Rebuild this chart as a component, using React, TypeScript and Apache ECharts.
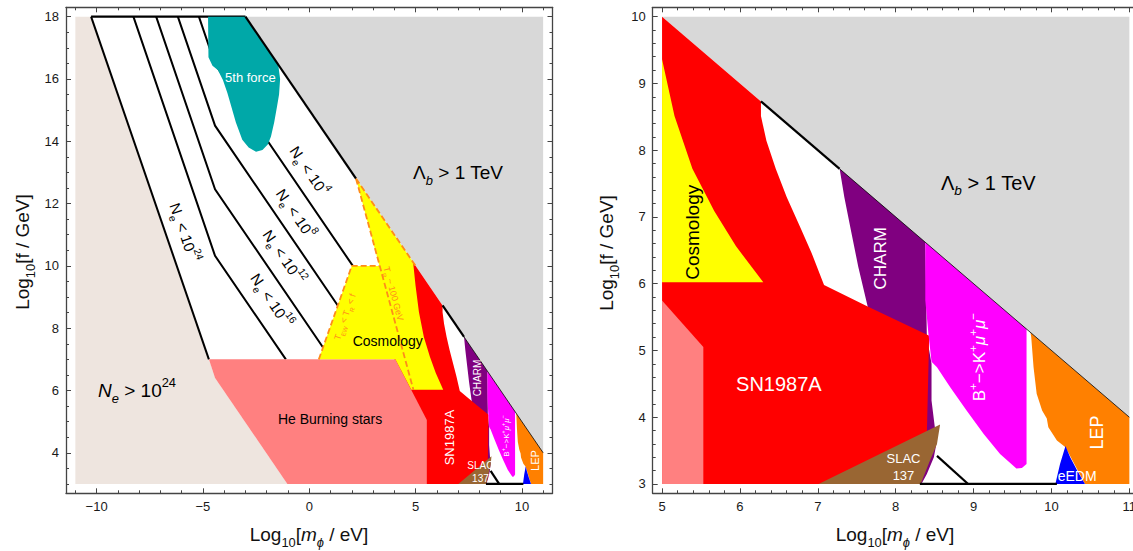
import React, { useEffect, useRef } from "react";
import * as echarts from "echarts";

type P = [number, number];

// ---------------- axis ticks ----------------
const LX_MAJOR = [-10, -5, 0, 5, 10];
const LX_MINOR = [-11, -9, -8, -7, -6, -4, -3, -2, -1, 1, 2, 3, 4, 6, 7, 8, 9, 11];
const LY_MAJOR = [4, 6, 8, 10, 12, 14, 16, 18];
const LY_MINOR = [3, 3.5, 4.5, 5, 5.5, 6.5, 7, 7.5, 8.5, 9, 9.5, 10.5, 11, 11.5, 12.5, 13, 13.5, 14.5, 15, 15.5, 16.5, 17, 17.5];
const RX_MAJOR = [5, 6, 7, 8, 9, 10, 11];
const RX_MINOR = [5.2, 5.4, 5.6, 5.8, 6.2, 6.4, 6.6, 6.8, 7.2, 7.4, 7.6, 7.8, 8.2, 8.4, 8.6, 8.8, 9.2, 9.4, 9.6, 9.8, 10.2, 10.4, 10.6, 10.8];
const RY_MAJOR = [3, 4, 5, 6, 7, 8, 9, 10];
const RY_MINOR = [3.2, 3.4, 3.6, 3.8, 4.2, 4.4, 4.6, 4.8, 5.2, 5.4, 5.6, 5.8, 6.2, 6.4, 6.6, 6.8, 7.2, 7.4, 7.6, 7.8, 8.2, 8.4, 8.6, 8.8, 9.2, 9.4, 9.6, 9.8];

// ---------------- regions (x = log10 m/eV, y = log10 f/GeV) ----------------
const GRAY: P[] = [[-3, 18], [11, 18], [11, 4]];
const BEIGE: P[] = [[-11, 18], [-10.26, 18], [-4.72, 7.0], [-4.43, 6.4], [-1.03, 3], [-11, 3]];
const TEAL: P[] = [[-4.76, 18], [-3.0, 18], [-1.46, 16.46], [-1.37, 16.0], [-1.42, 15.5], [-1.52, 15.1], [-1.65, 14.6], [-1.8, 14.15], [-1.95, 13.9], [-2.2, 13.72], [-2.5, 13.66], [-2.85, 13.8], [-3.15, 14.05], [-3.45, 14.6], [-3.7, 15.2], [-3.85, 15.55], [-4.06, 15.97], [-4.3, 16.29], [-4.55, 16.42], [-4.74, 16.7]];
const SALMON: P[] = [[-4.72, 7], [4.05, 7], [5.53, 5.05], [5.53, 3], [-1.03, 3], [-4.43, 6.4]];
const YELLOW: P[] = [[0.45, 7], [2.0, 10], [3.3, 10], [2.2, 12.8], [4.885, 10.115], [5.0, 9.36], [5.16, 8.51], [5.39, 7.72], [5.67, 7.09], [5.95, 6.56], [6.3, 6.02], [4.8, 6.02], [4.05, 7]];
const RED: P[] = [[4.885, 10.115], [6.27, 8.73], [6.27, 8.51], [6.34, 8.14], [6.46, 7.72], [6.6, 7.3], [6.78, 6.83], [6.92, 6.46], [7.08, 5.98], [7.64, 5.66], [8.43, 5.22], [8.4, 3.75], [8.2, 3.0], [4.0, 3.0], [4.0, 7.0]];
const CHARM: P[] = [[7.28, 7.72], [8.38, 6.62], [8.4, 5.2], [8.46, 4.8], [8.46, 4.25], [8.5, 3.87], [8.53, 3.65], [8.49, 3.4], [8.4, 3.15], [8.33, 3.0], [8.0, 3.0], [7.64, 5.66], [7.52, 6.25], [7.43, 6.77], [7.34, 7.3]];
const BKMM: P[] = [[8.38, 6.62], [9.68, 5.32], [9.68, 3.3], [9.62, 3.24], [9.55, 3.23], [9.34, 3.45], [9.13, 3.75], [8.91, 4.1], [8.7, 4.45], [8.53, 4.75], [8.46, 4.83], [8.42, 5.25], [8.38, 5.75]];
const LEP: P[] = [[9.73, 5.27], [11, 4], [11, 3], [10.43, 3.0], [10.18, 3.55], [10.07, 3.65], [9.96, 3.85], [9.94, 3.98], [9.88, 4.1], [9.81, 4.35], [9.77, 4.75], [9.74, 5.2]];
const EEDM: P[] = [[10.05, 3.0], [10.11, 3.3], [10.18, 3.57], [10.24, 3.4], [10.33, 3.2], [10.43, 3.0]];
const SLAC: P[] = [[7.01, 3.0], [8.57, 3.89], [8.53, 3.6], [8.44, 3.35], [8.32, 3.0]];

// ---------------- lines ----------------
const NE_LINES: P[][] = [
  [[-10.26, 18], [-4.72, 7.0]],
  [[-8.27, 18], [-4.43, 10.32], [-1.1, 7.0]],
  [[-7.2, 18], [-4.43, 12.46], [0.65, 7.38]],
  [[-6.18, 18], [-4.43, 14.5], [1.34, 8.73]],
  [[-5.19, 18], [-4.43, 16.48], [2.05, 10.0]],
];
const TOP_LINE: P[] = [[-10.26, 18], [-3, 18]];
const EDGE_THICK_L: P[][] = [[[-3, 18], [2.2, 12.8]], [[6.27, 8.73], [7.28, 7.72]]];
const EDGE_THICK_R: P[][] = [[[6.27, 8.73], [7.28, 7.72]]];
const EDGE_THIN: P[] = [[7.28, 7.72], [11, 4]];
const BOTTOM_LINES: P[][] = [[[8.53, 3.42], [8.93, 3.0]], [[8.31, 3.0], [10.07, 3.0]]];
const DASHED: P[][] = [
  [[2.2, 12.8], [4.9, 6.02]],
  [[0.45, 7], [2.0, 10], [3.3, 10]],
  [[2.2, 12.8], [5.0, 10.0]],
];

// ---------------- labels ----------------
type Lab = { x: number; y: number; t: string; s: number; c: string; rot?: number; slope?: number };
const WHITE = "#ffffff";
const LABELS_L: Lab[] = [
  { x: -2.77, y: 16.05, t: "5th force", s: 13, c: WHITE },
  { x: 7.0, y: 13.0, t: "{n|Λ}{isub|b}{n| > 1 TeV}", s: 19, c: "#000" },
  { x: -8.1, y: 6.0, t: "{i|N}{isub|e}{n| > 10}{sup|24}", s: 19, c: "#000" },
  { x: 0.98, y: 5.1, t: "He Burning stars", s: 14, c: "#000" },
  { x: 3.69, y: 7.59, t: "Cosmology", s: 14, c: "#000" },
  { x: 6.58, y: 4.49, t: "SN1987A", s: 13, c: WHITE, rot: 90 },
  { x: 7.9, y: 6.4, t: "CHARM", s: 10, c: WHITE, rot: 90 },
  { x: 9.28, y: 4.54, t: "{n|B}{sup|+}{n|−>K}{sup|+}{i|μ}{sup|+}{i|μ}{sup|−}", s: 8, c: WHITE, rot: 90 },
  { x: 10.64, y: 3.75, t: "LEP", s: 11, c: WHITE, rot: 90 },
  { x: 8.05, y: 3.58, t: "SLAC", s: 10, c: WHITE },
  { x: 8.05, y: 3.17, t: "137", s: 10, c: WHITE },
  { x: 0.0, y: 13.05, t: "{n|N}{sub|e}{n| < 10}{sup|4}", s: 15, c: "#000", slope: -1 },
  { x: -0.64, y: 11.68, t: "{n|N}{sub|e}{n| < 10}{sup|8}", s: 15, c: "#000", slope: -1 },
  { x: -1.19, y: 10.29, t: "{n|N}{sub|e}{n| < 10}{sup|12}", s: 15, c: "#000", slope: -1 },
  { x: -1.77, y: 8.89, t: "{n|N}{sub|e}{n| < 10}{sup|16}", s: 15, c: "#000", slope: -1 },
  { x: -5.87, y: 11.07, t: "{n|N}{sub|e}{n| < 10}{sup|24}", s: 15, c: "#000", slope: -2 },
  { x: 3.96, y: 9.11, t: "{n|T}{sub|R}{n| ~ 100 GeV}", s: 9, c: "#ff8c1a", slope: -2.545 },
  { x: 1.68, y: 8.36, t: "{n|T}{sub|EW}{n| < T}{sub|R}{n| < f}", s: 9, c: "#ff8c1a", slope: 1.94 },
];
const LABELS_R: Lab[] = [
  { x: 9.19, y: 7.51, t: "{n|Λ}{isub|b}{n| > 1 TeV}", s: 20, c: "#000" },
  { x: 5.39, y: 6.77, t: "Cosmology", s: 19, c: "#000", rot: 90 },
  { x: 6.5, y: 4.5, t: "SN1987A", s: 20, c: WHITE },
  { x: 7.8, y: 6.38, t: "CHARM", s: 17, c: WHITE, rot: 90 },
  { x: 9.08, y: 4.9, t: "{n|B}{sup|+}{n|−>K}{sup|+}{i|μ}{sup|+}{i|μ}{sup|−}", s: 17, c: WHITE, rot: 90 },
  { x: 10.58, y: 3.77, t: "LEP", s: 18, c: WHITE, rot: 90 },
  { x: 10.33, y: 3.12, t: "eEDM", s: 14, c: WHITE },
  { x: 8.1, y: 3.38, t: "SLAC", s: 13, c: WHITE },
  { x: 8.1, y: 3.12, t: "137", s: 13, c: WHITE },
];

const FONT = "'Liberation Sans', Arial, sans-serif";
const FRAME = "#444";

function rich(size: number, color: string) {
  const L = Math.round(size * 1.5);
  const small = Math.round(size * 0.68 * 10) / 10;
  return {
    n: { fontSize: size, fontFamily: FONT, fill: color, lineHeight: L, verticalAlign: "middle" },
    i: { fontSize: size, fontFamily: FONT, fill: color, lineHeight: L, fontStyle: "italic", verticalAlign: "middle" },
    sup: { fontSize: small, fontFamily: FONT, fill: color, verticalAlign: "top" },
    sub: { fontSize: small, fontFamily: FONT, fill: color, verticalAlign: "bottom" },
    isub: { fontSize: small, fontFamily: FONT, fill: color, fontStyle: "italic", verticalAlign: "bottom" },
  };
}

type Rect = { x0: number; x1: number; y0: number; y1: number };
function clipAxis(poly: P[], k: 0 | 1, v: number, keepGreater: boolean): P[] {
  const res: P[] = [];
  const ins = (p: P) => (keepGreater ? p[k] >= v : p[k] <= v);
  for (let i = 0; i < poly.length; i++) {
    const a = poly[i];
    const b = poly[(i + 1) % poly.length];
    const ia = ins(a);
    const ib = ins(b);
    if (ia) res.push(a);
    if (ia !== ib) {
      const t = (v - a[k]) / (b[k] - a[k]);
      res.push([a[0] + t * (b[0] - a[0]), a[1] + t * (b[1] - a[1])]);
    }
  }
  return res;
}
function clipPoly(poly: P[], r: Rect): P[] {
  let o = clipAxis(poly, 0, r.x0, true);
  o = clipAxis(o, 0, r.x1, false);
  o = clipAxis(o, 1, r.y0, true);
  o = clipAxis(o, 1, r.y1, false);
  return o;
}

function polySeries(ax: number, pts: P[], fill: string, rect: Rect, z: number) {
  const clipped = clipPoly(pts, rect);
  return {
    type: "custom",
    xAxisIndex: ax,
    yAxisIndex: ax,
    data: [[0, 0]],
    silent: true,
    clip: false,
    z,
    renderItem: (_p: any, api: any) =>
      clipped.length < 3
        ? null
        : { type: "polygon", shape: { points: clipped.map((q) => api.coord(q)) }, style: { fill, stroke: "none" } },
  };
}

function lineSeries(ax: number, lines: P[][], color: string, width: number, z: number, dash?: number[]) {
  return {
    type: "custom",
    xAxisIndex: ax,
    yAxisIndex: ax,
    data: [[0, 0]],
    silent: true,
    clip: false,
    z,
    renderItem: (_p: any, api: any) => ({
      type: "group",
      children: lines.map((l) => ({
        type: "polyline",
        shape: { points: l.map((q) => api.coord(q)) },
        style: { stroke: color, lineWidth: width, fill: "none", lineDash: dash || null, lineCap: "butt", lineJoin: "miter" },
      })),
    }),
  };
}

function labelSeries(ax: number, labels: Lab[], z: number) {
  return {
    type: "custom",
    xAxisIndex: ax,
    yAxisIndex: ax,
    data: [[0, 0]],
    silent: true,
    clip: false,
    z,
    renderItem: (_p: any, api: any) => ({
      type: "group",
      children: labels.map((l) => {
        const p = api.coord([l.x, l.y]);
        let rot = l.rot ? (l.rot * Math.PI) / 180 : 0;
        if (l.slope !== undefined) {
          const b = api.coord([l.x + 1, l.y + l.slope]);
          rot = -Math.atan2(b[1] - p[1], b[0] - p[0]);
          if (l.slope > 0) rot = -Math.atan2(b[1] - p[1], b[0] - p[0]);
        }
        return {
          type: "text",
          x: p[0],
          y: p[1],
          rotation: rot,
          style: {
            text: l.t,
            rich: rich(l.s, l.c),
            fill: l.c,
            fontSize: l.s,
            fontFamily: FONT,
            align: "center",
            verticalAlign: "middle",
          },
        };
      }),
    }),
  };
}

function frameAxes(dim: "x" | "y", grid: number, min: number, max: number, major: number[], minor: number[]) {
  const posMain = dim === "x" ? "bottom" : "left";
  const posOpp = dim === "x" ? "top" : "right";
  const base = { type: "value", gridIndex: grid, min, max, splitLine: { show: false }, scale: false };
  const line = { show: true, onZero: false, lineStyle: { color: FRAME, width: 1.3 } };
  const tickStyle = { color: FRAME, width: 1 };
  return [
    {
      ...base,
      position: posMain,
      axisLine: line,
      axisTick: { show: true, inside: true, length: 5, customValues: major, lineStyle: tickStyle },
      axisLabel: {
        show: true,
        customValues: major,
        margin: 7,
        fontSize: 13,
        color: "#1a1a1a",
        fontFamily: FONT,
        formatter: (v: number) => String(v).replace("-", "\u2212"),
      },
    },
    {
      ...base,
      position: posMain,
      axisLine: { show: false, onZero: false },
      axisTick: { show: true, inside: true, length: 3, customValues: minor, lineStyle: tickStyle },
      axisLabel: { show: false },
    },
    {
      ...base,
      position: posOpp,
      axisLine: line,
      axisTick: { show: true, inside: true, length: 5, customValues: major, lineStyle: tickStyle },
      axisLabel: { show: false },
    },
    {
      ...base,
      position: posOpp,
      axisLine: { show: false, onZero: false },
      axisTick: { show: true, inside: true, length: 3, customValues: minor, lineStyle: tickStyle },
      axisLabel: { show: false },
    },
  ];
}

function titleText(x: number, y: number, text: string, rot: number) {
  return {
    type: "text",
    x,
    y,
    rotation: (rot * Math.PI) / 180,
    style: { text, rich: rich(19, "#111"), fill: "#111", fontSize: 19, fontFamily: FONT, align: "center", verticalAlign: "middle" },
  };
}

export default function App() {
  const ref = useRef<HTMLDivElement>(null);
  useEffect(() => {
    if (!ref.current) return;
    const chart = echarts.init(ref.current, null, { renderer: "svg" });
    const RL: Rect = { x0: -11, x1: 11, y0: 3, y1: 18 };
    const RR: Rect = { x0: 5, x1: 11, y0: 3, y1: 10 };
    const shared = (ax: number, r: Rect) => [
      polySeries(ax, GRAY, "#d8d8d8", r, 1),
      polySeries(ax, CHARM, "#800080", r, 5),
      polySeries(ax, RED, "#ff0000", r, 6),
      polySeries(ax, SALMON, "#ff8080", r, 7),
      polySeries(ax, YELLOW, "#ffff00", r, 8),
      polySeries(ax, BKMM, "#ff00ff", r, 9),
      polySeries(ax, LEP, "#ff8000", r, 9),
      polySeries(ax, EEDM, "#0000ff", r, 10),
      polySeries(ax, SLAC, "#996633", r, 10),
      lineSeries(ax, [EDGE_THIN], "#000", 0.8, 12),
      lineSeries(ax, BOTTOM_LINES, "#000", 2.2, 12),
    ];
    const option: any = {
      animation: false,
      backgroundColor: "#ffffff",
      grid: [
        { left: 66, top: 7.3, width: 486.5, height: 486 },
        { left: 652.7, top: 7.3, width: 486, height: 486 },
      ],
      xAxis: [
        ...frameAxes("x", 0, -11.44, 11.44, LX_MAJOR, LX_MINOR),
        ...frameAxes("x", 1, 4.88, 11.12, RX_MAJOR, RX_MINOR),
      ],
      yAxis: [
        ...frameAxes("y", 0, 2.7, 18.3, LY_MAJOR, LY_MINOR),
        ...frameAxes("y", 1, 2.86, 10.14, RY_MAJOR, RY_MINOR),
      ],
      series: [
        ...shared(0, RL),
        polySeries(0, BEIGE, "#eee5df", RL, 2),
        lineSeries(0, NE_LINES, "#000", 2, 3),
        lineSeries(0, [TOP_LINE], "#000", 2.2, 3),
        polySeries(0, TEAL, "#00a8a8", RL, 4),
        lineSeries(0, EDGE_THICK_L, "#000", 2.2, 12),
        lineSeries(0, DASHED, "#ff8c1a", 1.8, 13, [6, 3]),
        labelSeries(0, LABELS_L, 20),
        ...shared(4, RR),
        lineSeries(4, EDGE_THICK_R, "#000", 2.2, 12),
        labelSeries(4, LABELS_R, 20),
      ],
      graphic: [
        titleText(22, 252, "{n|Log}{sub|10}{n|[f / GeV]}", 90),
        titleText(309, 534, "{n|Log}{sub|10}{n|[}{i|m}{isub|ϕ}{n| / eV]}", 0),
        titleText(606, 253, "{n|Log}{sub|10}{n|[f / GeV]}", 90),
        titleText(895, 534, "{n|Log}{sub|10}{n|[}{i|m}{isub|ϕ}{n| / eV]}", 0),
      ],
    };
    chart.setOption(option);
    return () => chart.dispose();
  }, []);
  return (
    <div style={{ position: "fixed", left: 0, top: 0, width: 1133, height: 551, overflow: "hidden", background: "#fff" }}>
      <div ref={ref} style={{ width: 1145, height: 551 }} />
    </div>
  );
}
